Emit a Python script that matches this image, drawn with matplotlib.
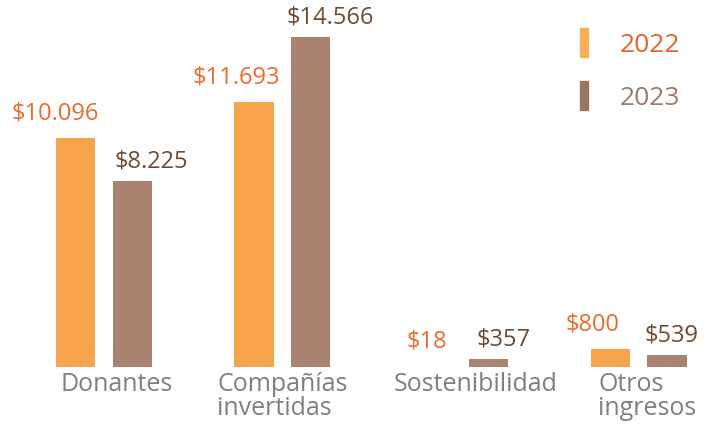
import matplotlib
matplotlib.use("Agg")
import matplotlib.pyplot as plt
import matplotlib.transforms as mtransforms
from matplotlib.patches import Patch
import numpy as np

categories = ["Donantes", "Compañías\ninvertidas", "Sostenibilidad", "Otros\ningresos"]
years = ["2022", "2023"]
values_2022 = [10096, 11693, 18, 800]
values_2023 = [8225, 14566, 357, 539]
labels_2022 = ["$10.096", "$11.693", "$18", "$800"]
labels_2023 = ["$8.225", "$14.566", "$357", "$539"]

# horizontal label nudges (points), styling only
dx_2022 = [-15, -13, -4, -13]
dx_2023 = [14, 14, 11, 3]
# category label nudges (points), styling only
dx_cat = [9, 0, 11, 6]

bar_c22 = "#F8A44E"
bar_c23 = "#A98270"
leg_c22 = "#FBAE5A"
leg_c23 = "#9C7562"
txt_c22 = "#EC6A2C"
txt_c23 = "#6E4A30"
legtxt_c22 = "#E8622A"
legtxt_c23 = "#9A7A6A"
cat_c = "#7F7F7F"

plt.rcParams['font.family'] = ['Open Sans', 'DejaVu Sans']

fig = plt.figure(figsize=(7.04, 4.27), dpi=100)
ax = fig.add_axes([0, 0.138, 1, 0.862])

x = np.arange(len(categories))
off = 0.158
w = 0.22
b1 = ax.bar(x - off, values_2022, width=w, color=bar_c22)
b2 = ax.bar(x + off, values_2023, width=w, color=bar_c23)

for rect, lab, dx in zip(b1, labels_2022, dx_2022):
    ax.annotate(lab, (rect.get_x() + rect.get_width() / 2, rect.get_height()),
                xytext=(dx, 10), textcoords="offset points", ha="center", va="bottom",
                fontsize=17, color=txt_c22)
for rect, lab, dx in zip(b2, labels_2023, dx_2023):
    ax.annotate(lab, (rect.get_x() + rect.get_width() / 2, rect.get_height()),
                xytext=(dx, 6), textcoords="offset points", ha="center", va="bottom",
                fontsize=17, color=txt_c23)

ax.set_xlim(-0.583, 3.365)
ax.set_ylim(0, 16243)
ax.set_xticks(x)
ax.set_xticklabels(categories, fontsize=18, color=cat_c, linespacing=0.95, multialignment="left")
ax.tick_params(axis="x", length=0, pad=3)
for lbl, dx in zip(ax.get_xticklabels(), dx_cat):
    lbl.set_transform(lbl.get_transform() + mtransforms.ScaledTranslation(dx / 72, 0, fig.dpi_scale_trans))
ax.set_yticks([])
for s in ax.spines.values():
    s.set_visible(False)

handles = [Patch(color=leg_c22), Patch(color=leg_c23)]
leg = ax.legend(handles, years, loc="upper right", bbox_to_anchor=(1.0, 0.985), frameon=False,
                fontsize=19, handlelength=0.3, handleheight=1.3, handletextpad=1.2,
                labelspacing=0.9, labelcolor=[legtxt_c22, legtxt_c23])

fig.savefig("out.png", dpi=100)
